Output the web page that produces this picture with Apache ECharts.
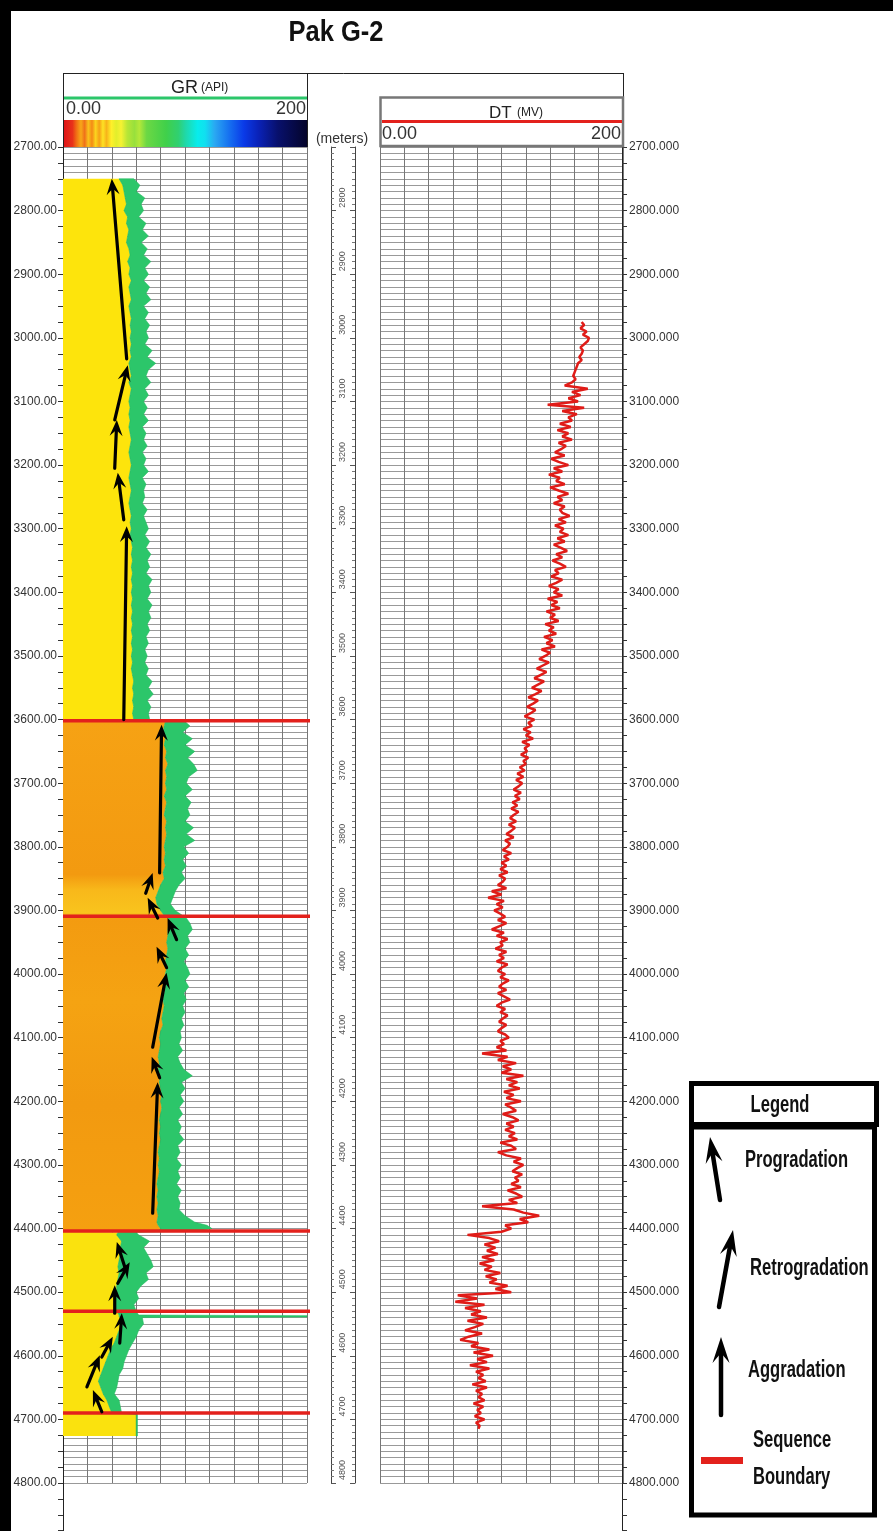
<!DOCTYPE html>
<html><head><meta charset="utf-8">
<script src="https://cdn.jsdelivr.net/npm/echarts/dist/echarts.min.js"></script>
<style>html,body{margin:0;padding:0;background:#fff}#c{width:893px;height:1531px}</style>
</head><body><div id="c"></div>
<script>
// ---------------- DATA ----------------
const title = 'Pak G-2';
const grScale = [0, 200];
const dtScale = [0, 200];
const depthRange = [2700, 4800];
const axisRange = [2700, 4875];
const depthTicks = [2800,2900,3000,3100,3200,3300,3400,3500,3600,3700,3800,3900,4000,4100,4200,4300,4400,4500,4600,4700,4800];

// GR log: depth (m), left edge of curve band (API), right edge of curve band (API)
const grDepth = [
 2750,2760,2770,2780,2790,2800,2810,2820,2830,2840,2850,2860,2870,2880,2890,2900,2910,2920,2930,2940,
 2950,2960,2970,2980,2990,3000,3010,3020,3030,3040,3050,3060,3070,3080,3090,3100,3110,3120,3130,3140,
 3150,3160,3170,3180,3190,3200,3210,3220,3230,3240,3250,3260,3270,3280,3290,3300,3310,3320,3330,3340,
 3350,3360,3370,3380,3390,3400,3410,3420,3430,3440,3450,3460,3470,3480,3490,3500,3510,3520,3530,3540,
 3550,3560,3570,3580,3590,3600,
 3603,3610,3620,3630,3640,3650,3660,3670,3680,3690,3700,3710,3720,3730,3740,3750,3760,3770,3780,3790,
 3800,3810,3820,3830,3840,3850,3860,3870,3880,3890,3900,3908,
 3909,3920,3930,3940,3950,3960,3970,3980,3990,4000,4010,4020,4030,4040,4050,4060,4070,4080,4090,4100,
 4110,4120,4130,4140,4150,4160,4170,4180,4190,4200,4210,4220,4230,4240,4250,4260,4270,4280,4290,4300,
 4310,4320,4330,4340,4350,4360,4370,4380,4390,4395,4400,4404,
 4406,4410,4420,4430,4440,4450,4460,4470,4480,4490,4500,4510,4520,4530,4536,4537,4539,4540,4550,4560,
 4570,4580,4590,4600,4610,4620,4630,4640,4650,4660,4670,4680,4690,4692,4726];
const grLow = [
 46,49,50,51,52,50,53,52,54,53,52,54,55,53,55,54,56,54,55,56,
 54,55,56,55,56,55,56,55,56,54,55,56,54,56,55,54,55,54,55,54,
 55,56,55,54,55,56,55,54,55,56,55,54,55,56,55,56,55,56,57,56,
 57,56,57,56,57,56,57,56,57,56,57,56,57,56,57,56,57,56,57,58,
 57,58,57,58,57,58,
 84,83,82,84,83,85,84,86,84,85,84,85,83,85,84,83,85,84,85,84,
 83,84,83,84,82,83,80,78,76,77,80,83,
 86,87,86,86,85,86,85,84,85,84,83,84,83,82,83,82,81,82,80,79,
 80,79,78,79,78,80,79,80,81,80,81,80,79,80,79,80,79,78,79,78,
 79,78,77,78,77,78,77,78,77,78,80,78,
 45,44,48,47,47,46,45,46,45,44,44,43,42,44,46,46,46,47,48,46,
 44,42,39,37,35,33,31,29,31,33,36,38,40,60,60];
const grHigh = [
 58,63,60,67,64,66,62,68,65,70,64,69,66,72,67,70,66,71,68,72,
 66,70,67,71,68,70,67,73,69,76,70,68,72,67,70,66,69,66,70,65,
 68,66,69,65,68,66,70,65,68,66,67,65,69,66,68,70,67,71,68,72,
 69,71,68,73,70,72,69,73,70,72,69,71,68,70,67,69,67,70,68,73,
 70,74,69,72,70,71,
 100,104,98,106,100,108,102,107,110,103,101,106,100,105,102,104,100,107,101,108,
 99,103,98,101,97,100,95,92,90,88,92,98,
 100,104,106,102,104,100,103,99,102,104,100,103,99,101,98,100,97,99,96,97,
 95,98,94,96,99,106,97,100,96,99,95,98,94,97,95,99,94,96,93,97,
 94,96,93,97,94,96,95,100,108,118,122,110,
 60,62,71,66,69,72,74,68,70,64,60,62,58,60,62,200,200,65,66,62,
 60,57,54,52,50,49,46,45,44,42,46,47,48,61,61];

// Lithology fill intervals under the GR curve
const fillTop = [2750, 3603, 4405];
const fillBase = [3601, 4405, 4726];
const fillName = ['upper', 'middle', 'lower'];

// DT log, one reading every 5 m from 2975 m
const dtStart = 2975, dtStep = 5;
const dtValues = [
 166,168,165,170,167,172,171,168,165,167,166,164,166,163,162,161,160,159,161,158,
 152,171,158,165,155,163,138,168,150,162,155,158,148,157,146,155,150,158,147,153,
 149,144,152,141,147,155,143,150,139,148,145,152,140,147,155,146,150,143,152,148,
 150,156,147,153,144,151,148,155,146,152,143,149,154,145,150,142,148,153,144,147,
 141,150,145,139,147,143,150,138,146,141,148,137,144,140,147,136,143,139,145,135,
 142,137,144,133,140,136,131,139,134,129,137,132,127,135,130,125,133,128,122,130,
 126,121,128,124,119,127,122,125,118,124,120,126,117,123,119,121,116,122,118,120,
 115,119,113,118,112,117,114,110,116,111,115,109,113,108,114,110,107,112,106,111,
 108,104,110,103,107,105,101,108,102,106,100,104,99,105,98,103,101,97,104,92,
 100,89,102,96,101,94,99,103,97,104,98,92,102,96,105,99,101,95,104,98,
 102,96,105,100,97,103,99,106,101,98,104,97,102,107,100,96,103,99,105,101,
 98,104,100,97,103,106,99,102,96,104,84,105,97,112,101,108,100,118,104,113,
 106,115,102,110,104,116,103,108,112,101,109,114,104,110,103,111,106,113,99,108,
 112,97,104,116,110,118,113,109,117,111,114,108,116,105,112,117,106,113,84,110,
 118,131,115,122,103,108,100,72,90,98,86,95,88,97,84,94,82,92,86,99,
 87,96,90,105,95,108,64,80,62,86,70,83,75,88,72,85,78,70,84,73,
 66,81,75,90,77,93,80,88,74,90,79,85,81,87,76,88,79,84,81,86,
 77,85,80,83,78,86,79,82,81];

// Sequence boundaries (m)
const seqBoundaries = [3602, 3909, 4404, 4530, 4690];

// Stacking-pattern arrows: [GR tail, depth tail, GR head, depth head]
const trendArrows = [
 [52.2,3033,40.0,2750],[42.4,3129,53.1,3043],[42.4,3205,44.1,3129],[49.8,3286,44.9,3212],
 [49.8,3600,52.2,3296],[79.2,3841,80.8,3608],[67.8,3873,73.5,3841],[77.6,3912,69.4,3880],
 [93.1,3946,85.7,3912],[84.9,3990,76.7,3957],[73.5,4115,84.9,3998],[79.2,4163,72.7,4130],
 [73.5,4376,77.6,4170],[50.6,4460,44.1,4421],[44.9,4486,54.7,4453],[42.4,4533,42.4,4489],
 [46.5,4580,48.2,4533],[31.8,4602,40.8,4570],[19.6,4649,30.2,4599],[31.8,4688,24.5,4654]];

const legendItems = ['Progradation', 'Retrogradation', 'Aggradation', 'Sequence', 'Boundary'];

// ---------------- STYLE / LAYOUT ----------------
const TOP = 147, TRACK_H = 1336, PXM = TRACK_H / (depthRange[1] - depthRange[0]);
const AXIS_H = (axisRange[1] - axisRange[0]) * PXM;
const SANS = '"Liberation Sans",Arial,sans-serif';
const fillColors = {
  upper: '#fde40c',
  middle: new echarts.graphic.LinearGradient(0,0,0,1,[
    {offset:0,color:'#f6a214'},{offset:0.30,color:'#f39a10'},{offset:0.33,color:'#f8b81a'},
    {offset:0.375,color:'#f9c41d'},{offset:0.383,color:'#f39b10'},{offset:0.55,color:'#f5a312'},
    {offset:0.75,color:'#f29a10'},{offset:1,color:'#f5a010'}]),
  lower: '#fae20e'
};
const GREEN = '#2cc66a', RED = '#e3211c';

function grFill(params, api) {
  const i = params.dataIndex, t = fillTop[i], b = fillBase[i];
  const pts = [api.coord([0, t])];
  for (let k = 0; k < grDepth.length; k++) {
    if (grDepth[k] >= t && grDepth[k] <= b) pts.push(api.coord([grLow[k], grDepth[k]]));
  }
  pts.push(api.coord([0, b]));
  return {type:'polygon', shape:{points:pts}, style:{fill: fillColors[fillName[i]]}};
}
function grBand(params, api) {
  const pts = [];
  for (let k = 0; k < grDepth.length; k++) pts.push(api.coord([grLow[k], grDepth[k]]));
  for (let k = grDepth.length - 1; k >= 0; k--) pts.push(api.coord([grHigh[k], grDepth[k]]));
  return {type:'polygon', shape:{points:pts}, style:{fill: GREEN, stroke: '#22b85e', lineWidth: 0.6}};
}
function boundary(params, api) {
  const d = api.value(1);
  const a = api.coord([grScale[0], d]), b = api.coord([grScale[1], d]);
  return {type:'line', shape:{x1:a[0], y1:a[1], x2:b[0]+3, y2:b[1]}, style:{stroke:RED, lineWidth:3.5}};
}
function headEls(p1, p2, lw, hl, hw, notch) {
  const dx = p2[0]-p1[0], dy = p2[1]-p1[1], L = Math.hypot(dx,dy) || 1;
  const ux = dx/L, uy = dy/L, nx = -uy, ny = ux;
  const bx = p2[0]-ux*hl, by = p2[1]-uy*hl, cx = p2[0]-ux*notch, cy = p2[1]-uy*notch;
  return [
    {type:'line', shape:{x1:p1[0], y1:p1[1], x2:cx, y2:cy}, style:{stroke:'#000', lineWidth:lw, lineCap:'round'}},
    {type:'polygon', shape:{points:[[p2[0],p2[1]],[bx+nx*hw,by+ny*hw],[cx,cy],[bx-nx*hw,by-ny*hw]]}, style:{fill:'#000'}}
  ];
}
function arrow(params, api) {
  const p1 = api.coord([api.value(0), api.value(1)]);
  const p2 = api.coord([api.value(2), api.value(3)]);
  return {type:'group', children: headEls(p1, p2, 3.2, 16, 6.5, 10)};
}
function depthLabel(params, api) {
  const d = api.value(1);
  const p = api.coord([0.5, d]);
  return {type:'text', x:p[0], y:p[1]-13, rotation:Math.PI/2,
    style:{text:String(d), fill:'#555', font:'9px ' + SANS, align:'center', verticalAlign:'middle', textAlign:'center', textVerticalAlign:'middle'}};
}

function txt(x, y, s, font, fill, align, extra) {
  return Object.assign({type:'text', x:x, y:y, z:50,
    style:{text:s, font:font, fill:fill||'#222', align:align||'left', verticalAlign:'middle',
           textAlign:align||'left', textVerticalAlign:'middle'}}, extra||{});
}
function ln(x1,y1,x2,y2,color,w){ return {type:'line', z:50, shape:{x1,y1,x2,y2}, style:{stroke:color, lineWidth:w}}; }

const colorBar = new echarts.graphic.LinearGradient(0,0,1,0,[
 {offset:0,color:'#de1418'},{offset:0.035,color:'#e8321a'},{offset:0.05,color:'#f06a14'},
 {offset:0.07,color:'#f7a818'},{offset:0.085,color:'#f0701a'},{offset:0.1,color:'#f9c21c'},
 {offset:0.115,color:'#f48a16'},{offset:0.13,color:'#fbd41e'},{offset:0.145,color:'#f5a016'},
 {offset:0.16,color:'#fde224'},{offset:0.175,color:'#f7b41a'},{offset:0.195,color:'#fff02a'},
 {offset:0.215,color:'#e2ee2c'},{offset:0.235,color:'#f6f232'},{offset:0.26,color:'#b8e636'},
 {offset:0.29,color:'#98e03c'},{offset:0.31,color:'#b4e83a'},{offset:0.34,color:'#6cd844'},
 {offset:0.42,color:'#40d04a'},{offset:0.47,color:'#30d070'},{offset:0.5,color:'#20d8a8'},
 {offset:0.55,color:'#08ecec'},{offset:0.58,color:'#10e0f0'},{offset:0.62,color:'#2aa8f2'},
 {offset:0.68,color:'#1670f0'},{offset:0.74,color:'#0a3ae8'},{offset:0.8,color:'#0a22b8'},
 {offset:0.88,color:'#08106c'},{offset:1,color:'#04042a'}]);

const LEG = 'bold 24px ' + SANS;
const legScale = {scaleX:0.69};
const graphics = [
  {type:'rect', z:60, shape:{x:0,y:0,width:893,height:11}, style:{fill:'#000'}},
  {type:'rect', z:60, shape:{x:0,y:0,width:11,height:1531}, style:{fill:'#000'}},
  txt(336, 33, title, 'bold 30px ' + SANS, '#111', 'center', {scaleX:0.85}),
  // header frame
  ln(63, 73.5, 623.5, 73.5, '#222', 1),
  ln(63.5, 73, 63.5, 147, '#222', 1),
  ln(307.5, 73, 307.5, 147, '#222', 1),
  ln(623.5, 73, 623.5, 98, '#222', 1),
  txt(171, 88, 'GR', '18px ' + SANS, '#222', 'left'),
  txt(201, 88, '(API)', '12px ' + SANS, '#222', 'left'),
  ln(64, 98, 307, 98, GREEN, 3),
  txt(66, 109, grScale[0].toFixed(2), '18px ' + SANS, '#333', 'left'),
  txt(306, 109, String(grScale[1]), '18px ' + SANS, '#333', 'right'),
  {type:'rect', z:50, shape:{x:64, y:120, width:243, height:27}, style:{fill:colorBar}},
  txt(342, 139, '(meters)', '14px ' + SANS, '#333', 'center'),
  {type:'rect', z:50, shape:{x:380.5, y:97.5, width:242.5, height:48.5}, style:{fill:'none', stroke:'#777', lineWidth:2.5}},
  txt(489, 113, 'DT', '17px ' + SANS, '#222', 'left'),
  txt(517, 113, '(MV)', '12px ' + SANS, '#222', 'left'),
  ln(382, 121.5, 622, 121.5, RED, 3),
  txt(382, 134, dtScale[0].toFixed(2), '18px ' + SANS, '#333', 'left'),
  txt(621, 134, String(dtScale[1]), '18px ' + SANS, '#333', 'right'),
  // legend box
  {type:'rect', z:50, shape:{x:691.5, y:1083.5, width:185, height:41}, style:{fill:'#fff', stroke:'#000', lineWidth:5}},
  {type:'rect', z:50, shape:{x:691.5, y:1127, width:183, height:388}, style:{fill:'#fff', stroke:'#000', lineWidth:5}},
  txt(780, 1105, 'Legend', LEG, '#111', 'center', legScale),
  txt(745, 1160, legendItems[0], LEG, '#111', 'left', legScale),
  txt(750, 1268, legendItems[1], LEG, '#111', 'left', legScale),
  txt(748, 1370, legendItems[2], LEG, '#111', 'left', legScale),
  txt(753, 1440, legendItems[3], LEG, '#111', 'left', legScale),
  txt(753, 1477, legendItems[4], LEG, '#111', 'left', legScale),
  {type:'rect', z:55, shape:{x:701, y:1457, width:42, height:7}, style:{fill:RED}}
];
[[720,1200,710,1137],[719,1307,733,1230],[721,1415,721,1337]].forEach(a => {
  headEls([a[0],a[1]],[a[2],a[3]], 4.5, 26, 8.5, 16).forEach(e => { e.z = 55; graphics.push(e); });
});

const gridLine = (c) => ({show:true, lineStyle:{color:c, width:1}});
const hideAxis = {axisLine:{show:false}, axisTick:{show:false}, axisLabel:{show:false}};

const option = {
  animation: false,
  backgroundColor: '#fff',
  grid: [
    {left:63, top:TOP, width:244, height:TRACK_H},
    {left:63, top:TOP, width:1, height:AXIS_H},
    {left:331, top:TOP, width:24, height:TRACK_H},
    {left:380, top:TOP, width:243, height:TRACK_H},
    {left:622, top:TOP, width:1, height:AXIS_H}
  ],
  xAxis: [
    Object.assign({gridIndex:0, type:'value', min:grScale[0], max:grScale[1], interval:20, splitLine:gridLine('#777')}, hideAxis),
    {gridIndex:1, type:'value', min:0, max:1, show:false},
    {gridIndex:2, type:'value', min:0, max:1, show:false},
    Object.assign({gridIndex:3, type:'value', min:dtScale[0], max:dtScale[1], interval:20, splitLine:gridLine('#777')}, hideAxis),
    {gridIndex:4, type:'value', min:0, max:1, show:false}
  ],
  yAxis: [
    Object.assign({gridIndex:0, type:'value', inverse:true, min:depthRange[0], max:depthRange[1], interval:10, splitLine:gridLine('#999')}, hideAxis),
    {gridIndex:1, type:'value', inverse:true, min:axisRange[0], max:axisRange[1], interval:100, position:'left',
     axisLine:{show:true, lineStyle:{color:'#222', width:1}},
     axisTick:{show:true, length:5, lineStyle:{color:'#333'}},
     minorTick:{show:true, splitNumber:4, length:5, lineStyle:{color:'#333'}},
     axisLabel:{show:true, margin:6, fontSize:12, fontFamily:'Liberation Sans', color:'#333',
       formatter:(v) => (depthTicks.indexOf(v) >= 0 || v === depthRange[0]) ? v.toFixed(2) : ''},
     splitLine:{show:false}},
    {gridIndex:2, type:'value', inverse:true, min:depthRange[0], max:depthRange[1], interval:100, position:'left',
     axisLine:{show:true, lineStyle:{color:'#444', width:1}},
     axisTick:{show:true, inside:true, length:5, lineStyle:{color:'#555'}},
     minorTick:{show:true, splitNumber:10, length:3, lineStyle:{color:'#777'}},
     axisLabel:{show:false}, splitLine:{show:false}},
    {gridIndex:2, type:'value', inverse:true, min:depthRange[0], max:depthRange[1], interval:100, position:'right',
     axisLine:{show:true, lineStyle:{color:'#444', width:1}},
     axisTick:{show:true, inside:true, length:5, lineStyle:{color:'#555'}},
     minorTick:{show:true, splitNumber:10, length:3, lineStyle:{color:'#777'}},
     axisLabel:{show:false}, splitLine:{show:false}},
    Object.assign({gridIndex:3, type:'value', inverse:true, min:depthRange[0], max:depthRange[1], interval:10, splitLine:gridLine('#999')}, hideAxis),
    {gridIndex:4, type:'value', inverse:true, min:axisRange[0], max:axisRange[1], interval:100, position:'right',
     axisLine:{show:true, lineStyle:{color:'#222', width:1}},
     axisTick:{show:true, length:5, lineStyle:{color:'#333'}},
     minorTick:{show:true, splitNumber:4, length:5, lineStyle:{color:'#333'}},
     axisLabel:{show:true, margin:6, fontSize:12, fontFamily:'Liberation Sans', color:'#333',
       formatter:(v) => (depthTicks.indexOf(v) >= 0 || v === depthRange[0]) ? v.toFixed(3) : ''},
     splitLine:{show:false}}
  ],
  series: [
    {type:'custom', name:'GR fill', xAxisIndex:0, yAxisIndex:0, z:2, renderItem:grFill,
     data: fillTop.map((t,i) => [0, t, fillBase[i]]), encode:{x:0, y:[1,2]}},
    {type:'custom', name:'GR', xAxisIndex:0, yAxisIndex:0, z:3, renderItem:grBand,
     data: [[grLow[0], grDepth[0]]], encode:{x:0, y:1}},
    {type:'custom', name:'Sequence Boundary', xAxisIndex:0, yAxisIndex:0, z:4, renderItem:boundary,
     data: seqBoundaries.map(d => [0, d]), encode:{x:0, y:1}},
    {type:'custom', name:'Trend arrows', xAxisIndex:0, yAxisIndex:0, z:5, renderItem:arrow,
     data: trendArrows, encode:{x:[0,2], y:[1,3]}},
    {type:'custom', name:'Depth labels', xAxisIndex:2, yAxisIndex:2, z:5, renderItem:depthLabel,
     data: depthTicks.map(d => [0.5, d]), encode:{x:0, y:1}},
    {type:'line', name:'DT', xAxisIndex:3, yAxisIndex:4, z:5, showSymbol:false, symbol:'none',
     lineStyle:{color:'#e01c18', width:2.5}, data: dtValues.map((v,i) => [v, dtStart + i*dtStep])}
  ],
  graphic: graphics
};
const chart = echarts.init(document.getElementById('c'), null, {renderer:'canvas'});
chart.setOption(option);
</script></body></html>
